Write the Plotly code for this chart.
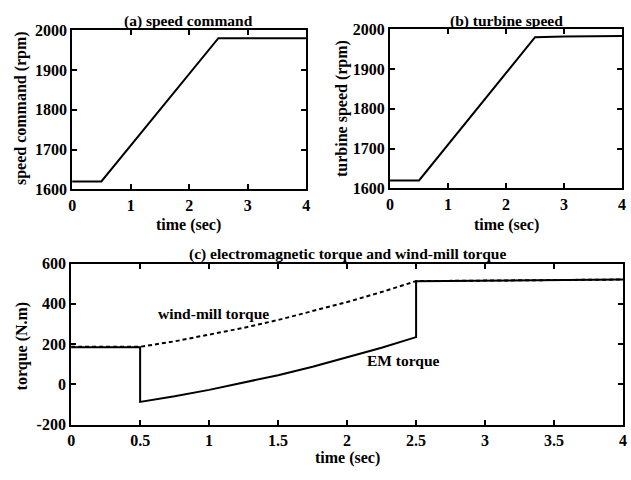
import plotly.graph_objects as go

# ---- data ----
t_cmd = [0, 0.5, 2.5, 4]
speed_cmd = [1620, 1620, 1980, 1980]

t_turb = [0, 0.5, 2.5, 3.0, 4]
speed_turb = [1620, 1620, 1980, 1982, 1983]

t_em = [0, 0.5, 0.5, 0.75, 1.0, 1.25, 1.5, 1.75, 2.0, 2.25, 2.5, 2.5, 4]
em_torque = [185, 185, -87, -59, -27, 8, 46, 88, 134, 182, 235, 513, 521]

t_wind = [0, 0.5, 0.75, 1.0, 1.25, 1.5, 1.75, 2.0, 2.25, 2.5, 4]
wind_torque = [187, 187, 214, 246, 281, 320, 363, 409, 459, 513, 521]

x_ticks_top = [0, 1, 2, 3, 4]
y_ticks_top = [1600, 1700, 1800, 1900, 2000]
x_ticks_bot = [0, 0.5, 1, 1.5, 2, 2.5, 3, 3.5, 4]
x_ticklabels_bot = ["0", "0.5", "1", "1.5", "2", "2.5", "3", "3.5", "4"]
y_ticks_bot = [-200, 0, 200, 400, 600]

W, H = 631, 480
FONT = "Liberation Serif"

def px(x):
    return x / W

def py(y):
    return 1 - y / H

fig = go.Figure()
line = dict(color="black", width=2)
fig.add_trace(go.Scatter(x=t_cmd, y=speed_cmd, mode="lines", line=line, xaxis="x", yaxis="y"))
fig.add_trace(go.Scatter(x=t_turb, y=speed_turb, mode="lines", line=line, xaxis="x2", yaxis="y2"))
fig.add_trace(go.Scatter(x=t_em, y=em_torque, mode="lines", line=line, xaxis="x3", yaxis="y3"))
fig.add_trace(go.Scatter(x=t_wind, y=wind_torque, mode="lines",
                         line=dict(color="black", width=2, dash="4px,3px"), xaxis="x3", yaxis="y3"))

tickfont = dict(family=FONT, size=16, color="black")
common = dict(showline=True, linecolor="black", linewidth=2, mirror="ticks", ticks="inside",
              ticklen=5, tickwidth=1.5, tickcolor="black", showgrid=False, zeroline=False,
              tickfont=tickfont)

def bold_labels(vals):
    return ["<b>%s</b>" % v for v in vals]

fig.update_layout(
    width=W, height=H, margin=dict(l=0, r=0, t=0, b=0),
    paper_bgcolor="white", plot_bgcolor="white", showlegend=False,
    xaxis=dict(domain=[px(69), px(306)], range=[0, 4], anchor="y",
               tickvals=x_ticks_top, ticktext=bold_labels(x_ticks_top), **common),
    yaxis=dict(domain=[py(188), py(23)], range=[1600, 2000], anchor="x",
               tickvals=y_ticks_top, ticktext=bold_labels(y_ticks_top), **common),
    xaxis2=dict(domain=[px(391), px(626)], range=[0, 4], anchor="y2",
                tickvals=x_ticks_top, ticktext=bold_labels(x_ticks_top), **common),
    yaxis2=dict(domain=[py(187), py(22)], range=[1600, 2000], anchor="x2",
                tickvals=y_ticks_top, ticktext=bold_labels(y_ticks_top), **common),
    xaxis3=dict(domain=[px(68), px(627)], range=[0, 4], anchor="y3",
                tickvals=x_ticks_bot, ticktext=bold_labels(x_ticklabels_bot), **common),
    yaxis3=dict(domain=[py(432), py(265)], range=[-200, 600], anchor="x3",
                tickvals=y_ticks_bot, ticktext=bold_labels(y_ticks_bot), **common),
)

def ann(text, x, y, size, angle=0):
    fig.add_annotation(text="<b>%s</b>" % text, x=px(x), y=py(y), xref="paper", yref="paper",
                       showarrow=False, xanchor="center", yanchor="middle", textangle=angle,
                       font=dict(family=FONT, size=size, color="black"))

ann("(a) speed command", 187, 13, 15.5)
ann("(b) turbine speed", 509, 13, 15.5)
ann("(c) electromagnetic torque and wind-mill torque", 348, 255, 15.5)
ann("time (sec)", 187, 225, 16)
ann("time (sec)", 509, 225, 16)
ann("time (sec)", 348, 467, 16)
ann("speed command (rpm)", 18, 104, 16, angle=-90)
ann("turbine speed (rpm)", 343, 104, 16, angle=-90)
ann("torque (N.m)", 18, 350, 16, angle=-90)
ann("wind-mill torque", 212, 317, 15.5)
ann("EM torque", 405, 365, 15.5)

fig.write_html("out.html")
